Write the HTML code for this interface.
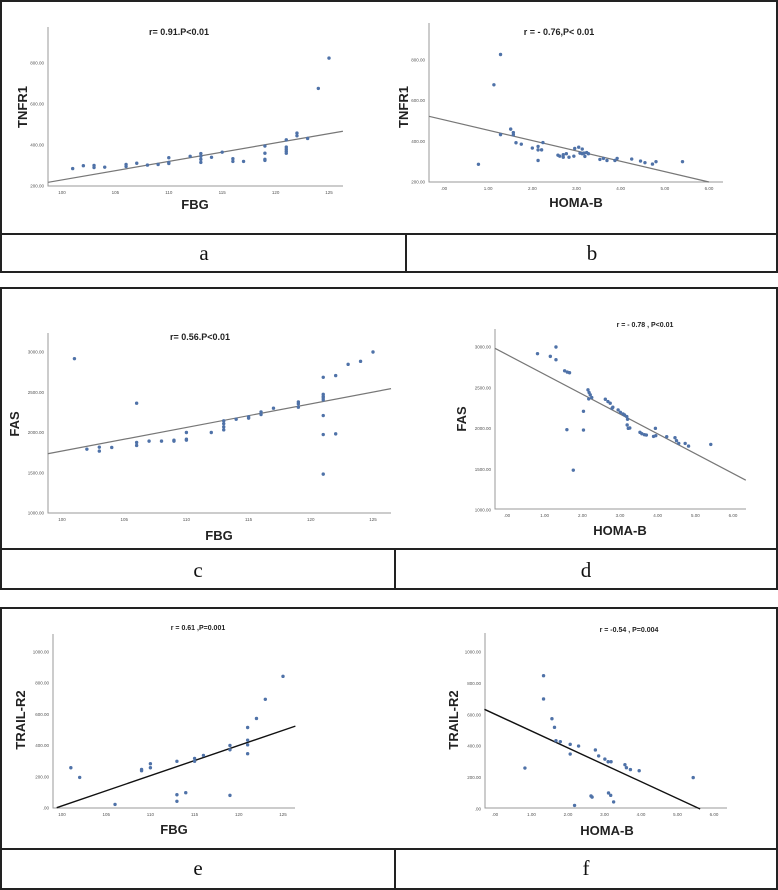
<!DOCTYPE html>
<html><head><meta charset="utf-8"><style>
html,body{margin:0;padding:0;background:#fff}
svg{display:block}
text{font-family:"Liberation Sans",sans-serif}
.lbl{font-family:"Liberation Serif",serif;font-size:21px;fill:#111}
</style></head><body>
<svg id="fig" width="778" height="890" viewBox="0 0 778 890" xmlns="http://www.w3.org/2000/svg">
<g fill="none" stroke="#222" stroke-width="2">
<rect x="1" y="1" width="776" height="271"/><line x1="1" y1="234" x2="777" y2="234"/><line x1="406" y1="234" x2="406" y2="272"/>
<rect x="1" y="288" width="776" height="301"/><line x1="1" y1="549" x2="777" y2="549"/><line x1="395" y1="549" x2="395" y2="589"/>
<rect x="1" y="608" width="776" height="281"/><line x1="1" y1="849" x2="777" y2="849"/><line x1="395" y1="849" x2="395" y2="889"/>
</g>
<text class="lbl" x="204" y="260" text-anchor="middle">a</text>
<text class="lbl" x="592" y="260" text-anchor="middle">b</text>
<text class="lbl" x="198" y="577" text-anchor="middle">c</text>
<text class="lbl" x="586" y="577" text-anchor="middle">d</text>
<text class="lbl" x="198" y="875" text-anchor="middle">e</text>
<text class="lbl" x="586" y="875" text-anchor="middle">f</text>
</svg>
<script>
// Panel a: FBG vs TNFR1
const aX=[101,102,103,103,104,106,106,107,108,109,110,110,110,112,113,113,113,113,114,115,116,116,117,119,119,119,119,121,121,121,121,121,122,122,123,124,125];
const aY=[285,299,290,300,292,295,305,311,302,305,338,315,310,345,358,345,330,315,340,365,333,320,320,395,360,330,325,425,390,380,370,360,458,445,432,676,824];
const aLineX=[98.7,126.3]; const aLineY=[218,467];
const aYTicks=[200,400,600,800]; const aYTickLabels=["200.00","400.00","600.00","800.00"];
const aXTicks=[100,105,110,115,120,125]; const aXTickLabels=["100","105","110","115","120","125"];
// Panel b: HOMA-B vs TNFR1
const bX=[0.78,1.13,1.28,1.28,1.51,1.57,1.57,1.63,1.75,2.0,2.13,2.13,2.13,2.21,2.24,2.58,2.62,2.7,2.7,2.77,2.83,2.94,2.96,3.05,3.08,3.13,3.13,3.17,3.19,3.23,3.27,3.53,3.61,3.69,3.87,3.92,4.25,4.45,4.55,4.72,4.8,5.4];
const bY=[287,678,827,433,460,443,432,393,386,367,375,358,306,358,394,332,327,334,322,339,322,327,365,371,342,362,339,342,326,345,339,311,316,306,306,316,313,303,295,288,300,300];
const bLineX=[-0.34,6.0]; const bLineY=[523,200];
const bYTicks=[200,400,600,800]; const bYTickLabels=["200.00","400.00","600.00","800.00"];
const bXTicks=[0,1,2,3,4,5,6]; const bXTickLabels=[".00","1.00","2.00","3.00","4.00","5.00","6.00"];
// Panel c: FBG vs FAS
const cX=[101,102,103,103,104,106,106,106,107,108,109,109,110,110,110,112,113,113,113,113,114,115,115,116,116,117,119,119,119,121,121,121,121,121,121,121,121,122,122,123,124,125];
const cY=[2917,1793,1818,1769,1814,2364,1876,1839,1893,1893,1905,1893,2000,1917,1905,2000,2145,2110,2070,2033,2165,2194,2178,2256,2223,2302,2380,2356,2314,2686,2475,2450,2430,2405,2211,1975,1483,2707,1983,2847,2884,3000];
const cLineX=[98.85,126.45]; const cLineY=[1736,2545];
const cYTicks=[1000,1500,2000,2500,3000]; const cYTickLabels=["1000.00","1500.00","2000.00","2500.00","3000.00"];
const cXTicks=[100,105,110,115,120,125]; const cXTickLabels=["100","105","110","115","120","125"];
// Panel d: HOMA-B vs FAS
const dX=[0.81,1.15,1.30,1.30,1.53,1.60,1.66,1.59,2.03,2.03,1.76,2.15,2.18,2.21,2.17,2.25,2.61,2.68,2.74,2.81,2.79,2.95,3.01,3.08,3.12,3.18,3.2,3.19,3.22,3.26,3.53,3.58,3.65,3.7,3.89,3.95,3.94,4.24,4.46,4.5,4.56,4.73,4.82,5.41];
const dY=[2918,2885,3000,2844,2708,2692,2684,1986,2211,1981,1489,2474,2441,2413,2363,2380,2359,2331,2310,2261,2248,2228,2199,2179,2166,2146,2113,2043,2002,2006,1953,1936,1924,1920,1903,1912,2002,1899,1887,1850,1817,1817,1784,1805];
const dLineX=[-0.32,6.34]; const dLineY=[2984,1366];
const dYTicks=[1000,1500,2000,2500,3000]; const dYTickLabels=["1000.00","1500.00","2000.00","2500.00","3000.00"];
const dXTicks=[0,1,2,3,4,5,6]; const dXTickLabels=[".00","1.00","2.00","3.00","4.00","5.00","6.00"];
// Panel e: FBG vs TRAIL-R2
const eX=[101,102,106,109,109,110,110,113,113,113,114,115,115,116,119,119,119,121,121,121,121,122,123,125];
const eY=[258,196,23,247,239,284,258,299,85,43,98,318,299,337,401,373,81,516,435,405,348,574,697,844];
const eLineX=[99.4,126.4]; const eLineY=[2,525];
const eYTicks=[0,200,400,600,800,1000]; const eYTickLabels=[".00","200.00","400.00","600.00","800.00","1000.00"];
const eXTicks=[100,105,110,115,120,125]; const eXTickLabels=["100","105","110","115","120","125"];
// Panel f: HOMA-B vs TRAIL-R2
const fX=[0.82,1.33,1.33,1.56,1.63,1.67,1.79,2.06,2.06,2.29,2.18,2.63,2.66,2.75,2.84,3.01,3.10,3.18,3.11,3.17,3.25,3.56,3.6,3.71,3.95,5.43];
const fY=[261,849,701,575,520,435,429,412,350,401,23,83,76,376,338,318,301,301,102,87,45,282,263,251,244,200];
const fLineX=[-0.29,5.62]; const fLineY=[635,0];
const fYTicks=[0,200,400,600,800,1000]; const fYTickLabels=[".00","200.00","400.00","600.00","800.00","1000.00"];
const fXTicks=[0,1,2,3,4,5,6]; const fXTickLabels=[".00","1.00","2.00","3.00","4.00","5.00","6.00"];

const NS="http://www.w3.org/2000/svg";
const svg=document.getElementById('fig');
function mk(tag,attrs,parent,txt){const e=document.createElementNS(NS,tag);for(const k in attrs)e.setAttribute(k,attrs[k]);if(txt!==undefined)e.textContent=txt;parent.appendChild(e);return e;}
function panel(p){
  const g=mk('g',{},svg);
  
  
  const sx=v=>p.x0px+(v-p.x0)*(p.x1px-p.x0px)/(p.x1-p.x0);
  const sy=v=>p.y0px+(v-p.y0)*(p.y1px-p.y0px)/(p.y1-p.y0);
  const ax=mk('path',{d:`M${p.L} ${p.T}V${p.B}H${p.R}`,fill:'none',stroke:'#999','stroke-width':1},g);
  
  
  p.yt.forEach((v,i)=>{const t=mk('text',{x:p.L-4,y:sy(v)+1.5,'text-anchor':'end','font-size':4.5,fill:'#555'},g,p.ytl[i]);
    
    });
  p.xt.forEach((v,i)=>{const t=mk('text',{x:sx(v),y:p.B+8,'text-anchor':'middle','font-size':4.5,fill:'#555'},g,p.xtl[i]);
    
    });
  const ln=mk('line',{x1:sx(p.lx[0]),y1:sy(p.ly[0]),x2:sx(p.lx[1]),y2:sy(p.ly[1]),stroke:p.lc,'stroke-width':p.lw},g);
  
  
  p.xs.forEach((v,i)=>{const c=mk('circle',{cx:sx(v),cy:sy(p.ys[i]),r:1.7,fill:'#4f72a8'},g);
    
    });
  const ti=mk('text',{x:p.tx,y:p.ty,'text-anchor':'middle','font-size':p.tfs,'font-weight':'bold',fill:'#222'},g,p.title);
  
  
  const xl=mk('text',{x:p.xlx,y:p.xly,'text-anchor':'middle','font-size':13,'font-weight':'bold',fill:'#222'},g,p.xlab);
  
  
  const yl=mk('text',{x:0,y:0,'text-anchor':'middle','font-size':13,'font-weight':'bold',fill:'#222',transform:`translate(${p.ylx},${p.yly}) rotate(-90)`},g,p.ylab);
  
  
}
panel({id:'a',L:48,T:27,B:186,R:343,x0:100,x1:125,x0px:62,x1px:329,y0:200,y1:800,y0px:186,y1px:63,xs:aX,ys:aY,lx:aLineX,ly:aLineY,lc:'#777',lw:1.2,yt:aYTicks,ytl:aYTickLabels,xt:aXTicks,xtl:aXTickLabels,title:'r= 0.91.P<0.01',tx:179,ty:35,tfs:9,xlab:'FBG',xlx:195,xly:209,ylab:'TNFR1',ylx:27,yly:107});
panel({id:'b',L:429,T:23,B:182,R:723,x0:0,x1:6,x0px:444,x1px:709,y0:200,y1:800,y0px:182,y1px:60,xs:bX,ys:bY,lx:bLineX,ly:bLineY,lc:'#777',lw:1.2,yt:bYTicks,ytl:bYTickLabels,xt:bXTicks,xtl:bXTickLabels,title:'r = - 0.76,P< 0.01',tx:559,ty:35,tfs:9,xlab:'HOMA-B',xlx:576,xly:207,ylab:'TNFR1',ylx:408,yly:107});
panel({id:'c',L:48,T:333,B:513,R:391,x0:100,x1:125,x0px:62,x1px:373,y0:1000,y1:3000,y0px:513,y1px:352,xs:cX,ys:cY,lx:cLineX,ly:cLineY,lc:'#777',lw:1.2,yt:cYTicks,ytl:cYTickLabels,xt:cXTicks,xtl:cXTickLabels,title:'r= 0.56.P<0.01',tx:200,ty:340,tfs:9,xlab:'FBG',xlx:219,xly:540,ylab:'FAS',ylx:19,yly:424});
panel({id:'d',L:495,T:329,B:509,R:746,x0:0,x1:6,x0px:507,x1px:733,y0:1000,y1:3000,y0px:510,y1px:347,xs:dX,ys:dY,lx:dLineX,ly:dLineY,lc:'#777',lw:1.2,yt:dYTicks,ytl:dYTickLabels,xt:dXTicks,xtl:dXTickLabels,title:'r = - 0.78 , P<0.01',tx:645,ty:327,tfs:7,xlab:'HOMA-B',xlx:620,xly:535,ylab:'FAS',ylx:466,yly:419});
panel({id:'e',L:53,T:634,B:808,R:295,x0:100,x1:125,x0px:62,x1px:283,y0:0,y1:1000,y0px:808,y1px:652,xs:eX,ys:eY,lx:eLineX,ly:eLineY,lc:'#111',lw:1.4,yt:eYTicks,ytl:eYTickLabels,xt:eXTicks,xtl:eXTickLabels,title:'r = 0.61 ,P=0.001',tx:198,ty:630,tfs:7,xlab:'FBG',xlx:174,xly:834,ylab:'TRAIL-R2',ylx:25,yly:720});
panel({id:'f',L:485,T:633,B:808,R:727,x0:0,x1:6,x0px:495,x1px:714,y0:0,y1:1000,y0px:809,y1px:652,xs:fX,ys:fY,lx:fLineX,ly:fLineY,lc:'#111',lw:1.4,yt:fYTicks,ytl:fYTickLabels,xt:fXTicks,xtl:fXTickLabels,title:'r = -0.54 , P=0.004',tx:629,ty:632,tfs:7,xlab:'HOMA-B',xlx:607,xly:835,ylab:'TRAIL-R2',ylx:458,yly:720});
</script>
</body></html>
